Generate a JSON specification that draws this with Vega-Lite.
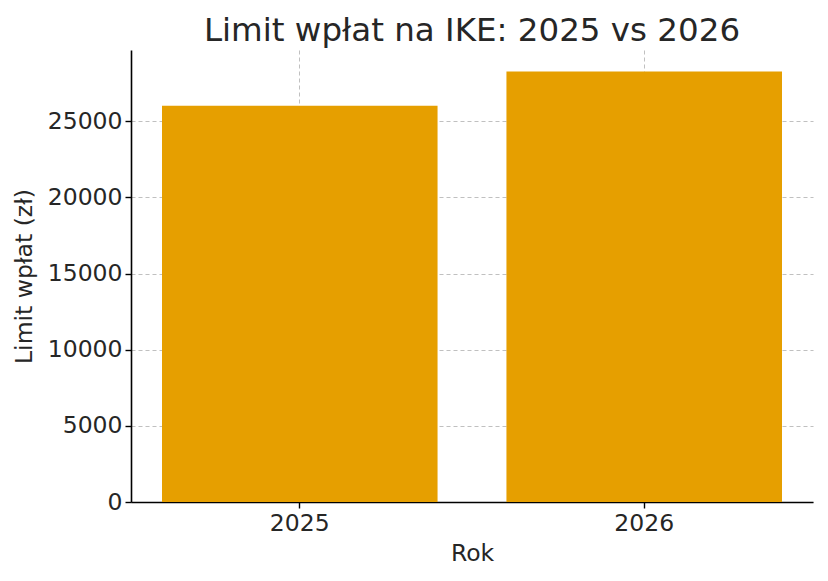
{
  "$schema": "https://vega.github.io/schema/vega-lite/v6.json",
  "autosize": "none",
  "width": 682,
  "height": 452,
  "padding": {"left": 131, "top": 50, "right": 15, "bottom": 79},
  "background": "white",
  "config": {
    "font": "DejaVu Sans",
    "view": {"stroke": null},
    "axis": {
      "labelFont": "DejaVu Sans",
      "titleFont": "DejaVu Sans",
      "labelFontSize": 23.5,
      "titleFontSize": 23.5,
      "labelColor": "#262626",
      "titleColor": "#262626",
      "titleFontWeight": "normal",
      "domainColor": "#000000",
      "domainWidth": 1.6,
      "tickColor": "#000000",
      "tickWidth": 1.4,
      "tickSize": 6,
      "labelPadding": 3,
      "grid": true,
      "gridColor": "#b0b0b0",
      "gridDash": [4, 3],
      "gridWidth": 1,
      "gridOpacity": 0.8,
      "zindex": 1
    }
  },
  "title": {
    "text": "Limit wpłat na IKE: 2025 vs 2026",
    "font": "DejaVu Sans",
    "fontSize": 32.5,
    "fontWeight": "normal",
    "color": "#262626",
    "offset": 3,
    "anchor": "middle"
  },
  "data": {
    "values": [
      {"rok": "2025", "limit": 26019},
      {"rok": "2026", "limit": 28260}
    ]
  },
  "mark": {"type": "bar", "color": "#E69F00"},
  "encoding": {
    "x": {
      "field": "rok",
      "type": "nominal",
      "title": "Rok",
      "scale": {"paddingInner": 0.2, "paddingOuter": 0.09},
      "axis": {"labelAngle": 0, "bandPosition": 0.5, "titlePadding": 7}
    },
    "y": {
      "field": "limit",
      "type": "quantitative",
      "title": "Limit wpłat (zł)",
      "scale": {"domain": [0, 29673], "nice": false},
      "axis": {"values": [0, 5000, 10000, 15000, 20000, 25000], "format": "d", "titlePadding": 11}
    }
  }
}
